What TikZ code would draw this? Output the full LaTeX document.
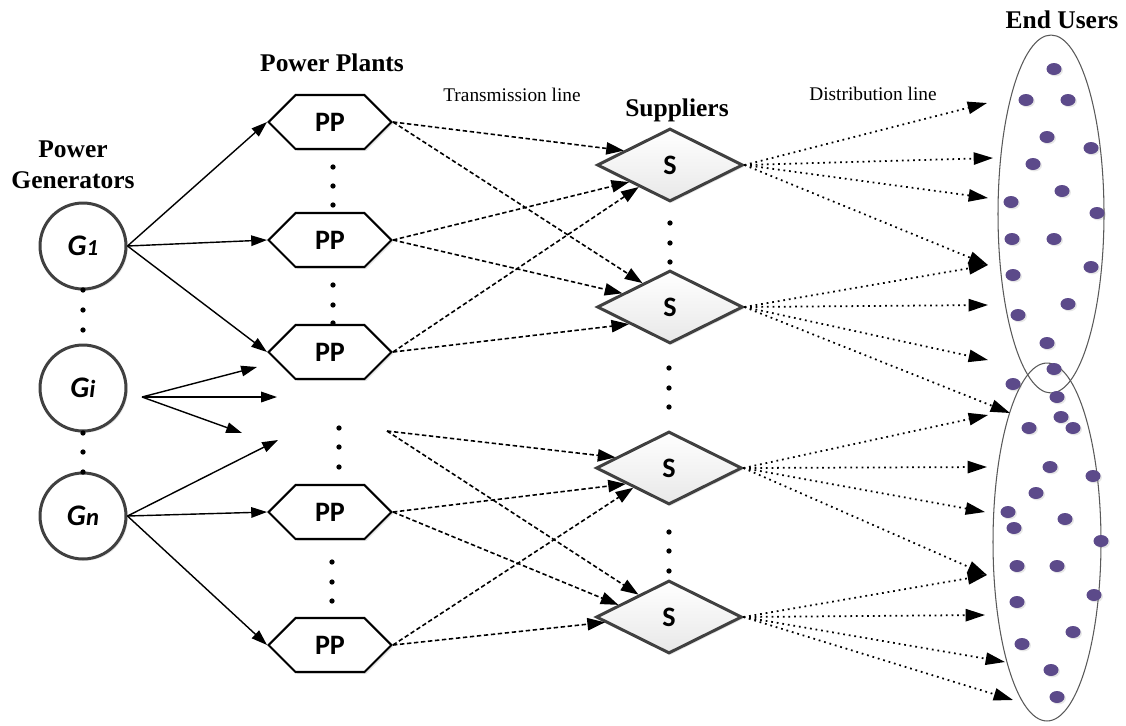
\documentclass[tikz,border=0pt]{standalone}
\usepackage{fontspec}
\setmainfont{Liberation Serif}
\newfontfamily\calibfont{Carlito}
\usetikzlibrary{shapes.geometric,shapes.symbols,arrows.meta,calc,shadows}
\definecolor{rimgray}{rgb}{0.25, 0.25, 0.25}
\definecolor{usergray}{rgb}{0.35, 0.35, 0.35}
\definecolor{userpurple}{rgb}{0.36, 0.29, 0.54}
\definecolor{fillgray}{rgb}{0.91, 0.91, 0.91}

\begin{document}
\begin{tikzpicture}[x=0.02cm,y=-0.02cm,
    gen/.style={circle,draw=rimgray,line width=1.7pt,fill=white,minimum size=1.72cm,
        drop shadow={shadow xshift=1pt,shadow yshift=-1pt,opacity=0.2},
        font=\calibfont\bfseries\itshape\fontsize{17}{17}\selectfont},
    plant/.style={signal,signal to=east and west,signal pointer angle=90,draw=black,line width=1.2pt,
        fill=white,minimum width=2.46cm,minimum height=1.08cm,inner sep=0pt,
        drop shadow={shadow xshift=1pt,shadow yshift=-1pt,opacity=0.2},
        font=\calibfont\bfseries\fontsize{16}{16}\selectfont},
    supp/.style={diamond,aspect=2,draw=rimgray,line width=1.7pt,top color=white,bottom color=fillgray,
        minimum width=2.92cm,minimum height=1.46cm,inner sep=0pt,
        drop shadow={shadow xshift=1pt,shadow yshift=-1pt,opacity=0.2},
        font=\calibfont\bfseries\fontsize{16}{16}\selectfont},
    group/.style={ellipse,draw=usergray,line width=0.6pt},
    user/.style={ellipse,fill=userpurple,minimum width=0.3cm,minimum height=0.24cm,inner sep=0pt,
        drop shadow={shadow xshift=0.8pt,shadow yshift=-0.8pt,opacity=0.2}},
    title/.style={font=\bfseries\fontsize{14.5}{17.5}\selectfont,align=center},
    note/.style={font=\fontsize{11}{13}\selectfont},
    feed/.style={-{Triangle[length=9pt,width=6pt]},line width=0.8pt},
    trans/.style={-{Triangle[length=10pt,width=7pt]},line width=0.9pt,dash pattern=on 2.5pt off 1.5pt},
    dist/.style={-{Triangle[length=11pt,width=7pt]},line width=1pt,dash pattern=on 1pt off 2.2pt},
]
\useasboundingbox (0,0) rectangle (1126,725);

% Add labels
\node[title] (pgt) at (73,165) {Power\\Generators};
\node[title] (ppt) at (332,63) {Power Plants};
\node[note] (tlt) at (512,95) {Transmission line};
\node[title] (spt) at (677,110) {Suppliers};
\node[note] (dlt) at (873,94) {Distribution line};
\node[title] (eut) at (1062,20) {End Users};

% End user groups
\node[group,minimum width=2.12cm,minimum height=7.16cm] (ug1) at (1051,214) {};
\node[group,minimum width=2.16cm,minimum height=7.16cm] (ug2) at (1047,542) {};
\foreach \x/\y [count=\k] in {1054/69,1026/100,1068/100,1047/137,1091/148,1033/164,1062/191,
    1011/202,1097/213,1012/239,1054/239,1013/275,1091/267,1068/304,1018/315,1047/343,1054/369,
    1013/384,1057/397,1061/417,1073/428,1029/428,1050/467,1093/476,1036/493,1008/512,1014/528,
    1065/519,1101/541,1017/566,1057/566,1094/595,1017/602,1073/632,1022/644,1051/670,1057/697}
    \node[user] (u\k) at (\x,\y) {};

% Nodes
\node[gen] (g1) at (83,246) {G{\fontsize{13}{13}\selectfont 1}};
\node[gen] (gi) at (83,388) {G{\fontsize{14}{14}\selectfont i}};
\node[gen] (gn) at (83,516) {G{\fontsize{14}{14}\selectfont n}};
\node[plant] (pp1) at (330,122) {PP};
\node[plant] (pp2) at (330,240) {PP};
\node[plant] (pp3) at (330,352) {PP};
\node[plant] (pp4) at (330,512) {PP};
\node[plant] (pp5) at (330,645) {PP};
\node[supp] (s1) at (670,165) {S};
\node[supp] (s2) at (670,307) {S};
\node[supp] (s3) at (669,468) {S};
\node[supp] (s4) at (669,617) {S};

% Dots between the nodes
\foreach \x/\y in {83/290,83/310,83/330,83/433,83/452,83/472,
    333/167,333/186,333/205,333/285,333/305,333/323,339/428,339/447,339/467,332/562,332/582,332/601,
    670/223,670/243,670/262,669/368,669/388,669/407,669/532,669/551,669/571}
    \fill (\x,\y) circle (1.5pt);

% Free ends
\coordinate (gis) at (142,397);
\coordinate (gia) at (257,367);
\coordinate (gib) at (277,397);
\coordinate (gic) at (242,433);
\coordinate (gna) at (278,440);
\coordinate (gap) at (387,431);
\foreach \n/\x/\y in {1/987/103,2/993/158,3/988/198,4/988/265,5/988/305,6/988/360,7/1010/413,
    8/988/415,9/987/467,10/985/512,11/987/575,12/985/615,13/1005/662,14/1013/700}
    \coordinate (e\n) at (\x,\y);

% Generators to power plants
\draw[feed] (g1.east) -- (pp1.west);
\draw[feed] (g1.east) -- (pp2.west);
\draw[feed] (g1.east) -- (pp3.west);
\draw[feed] (gis) -- (gia);
\draw[feed] (gis) -- (gib);
\draw[feed] (gis) -- (gic);
\draw[feed] (gn.east) -- (gna);
\draw[feed] (gn.east) -- (pp4.west);
\draw[feed] (gn.east) -- (pp5.west);

% Transmission lines
\draw[trans] (pp1.east) -- ($(s1.west)!0.38!(s1.north)$);
\draw[trans] (pp1.east) -- ($(s2.west)!0.63!(s2.north)$);
\draw[trans] (pp2.east) -- ($(s1.west)!0.45!(s1.south)$);
\draw[trans] (pp2.east) -- ($(s2.west)!0.36!(s2.north)$);
\draw[trans] (pp3.east) -- ($(s1.west)!0.58!(s1.south)$);
\draw[trans] (pp3.east) -- ($(s2.west)!0.45!(s2.south)$);
\draw[trans] (gap) -- ($(s3.west)!0.28!(s3.north)$);
\draw[trans] (gap) -- ($(s4.west)!0.59!(s4.north)$);
\draw[trans] (pp4.east) -- ($(s3.west)!0.42!(s3.south)$);
\draw[trans] (pp4.east) -- ($(s4.west)!0.32!(s4.north)$);
\draw[trans] (pp5.east) -- ($(s3.west)!0.52!(s3.south)$);
\draw[trans] (pp5.east) -- ($(s4.west)!0.14!(s4.south)$);

% Distribution lines
\foreach \s/\n in {s1/1,s1/2,s1/3,s1/4,s2/4,s2/5,s2/6,s2/7,s3/8,s3/9,s3/10,s3/11,s4/11,s4/12,s4/13,s4/14}
    \draw[dist] (\s.east) -- (e\n);
\end{tikzpicture}
\end{document}
